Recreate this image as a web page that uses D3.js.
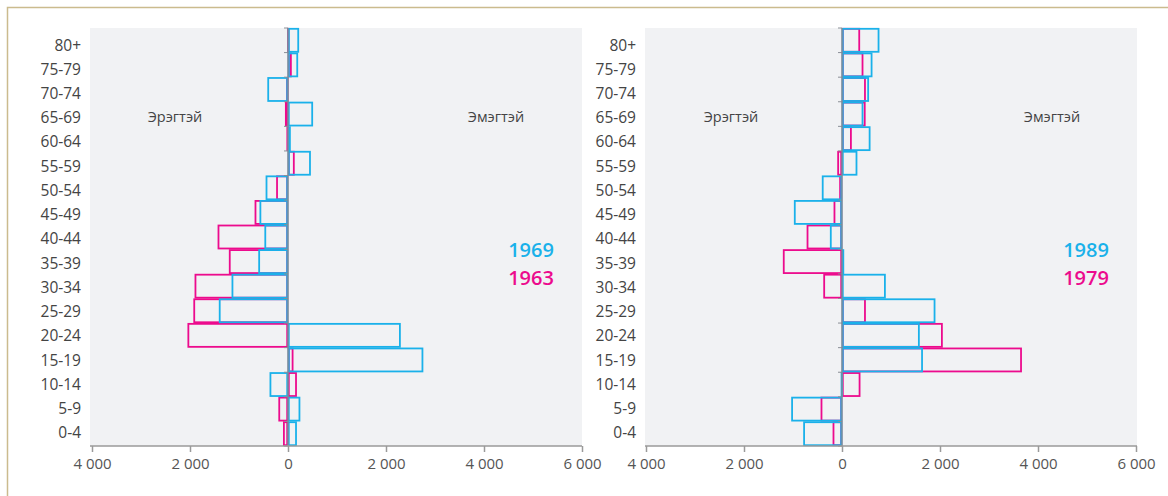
<!DOCTYPE html>
<html>
<head>
<meta charset="utf-8">
<script src="https://cdn.jsdelivr.net/npm/d3@7"></script>
<style>
  html, body { margin: 0; padding: 0; background: #fff; }
  svg { display: block; font-family: "Open Sans", "Noto Sans", sans-serif; }
</style>
</head>
<body>
<svg id="chart" width="1168" height="496"></svg>
<script>
// Age groups (bottom to top)
const ageGroups = ["0-4","5-9","10-14","15-19","20-24","25-29","30-34","35-39","40-44","45-49","50-54","55-59","60-64","65-69","70-74","75-79","80+"];

// Left panel: 1963 (pink), 1969 (blue)
const values1963 = [-100, -195, 180, 110, -2050, -1930, -1905, -1205, -1435, -680, -240, 135, -30, -60, -35, 75, -15];
const values1969 = [180, 250, -375, 2760, 2300, -1410, -1150, -605, -480, -580, -455, 465, 55, 510, -420, 205, 225];

// Right panel: 1979 (pink), 1989 (blue)
const values1979 = [-190, -435, 375, 3670, 2055, 485, -380, -1205, -720, -170, -55, -95, 198, 480, 485, 435, 368];
const values1989 = [-790, -1035, -25, 1650, 1585, 1905, 892, 25, -245, -980, -410, 312, 580, 435, 550, 620, 762];

const xTicks = [-4000, -2000, 0, 2000, 4000, 6000];
const sideLabels = ["Эрэгтэй", "Эмэгтэй"];

const panels = [
  { pink: values1963, blue: values1969, pinkYear: "1963", blueYear: "1969", bg: [90, 582], range: [92, 582],
    maleX: 175, femaleX: 496, yearX: 531 },
  { pink: values1979, blue: values1989, pinkYear: "1979", blueYear: "1989", bg: [645, 1137], range: [646, 1136],
    maleX: 731, femaleX: 1052, yearX: 1086 }
];

const BLUE = "#1ab1ea";
const PINK = "#ec0b8d";
const plotTop = 28, plotBottom = 446;

const svg = d3.select("#chart");

// frame
svg.append("path")
  .attr("d", "M7.5,496 L7.5,7.5 L1168,7.5")
  .attr("fill", "none").attr("stroke", "#cbbb8e").attr("stroke-width", 1.5);

const fmt = d => d3.format(",")(Math.abs(d)).replace(/,/g, " ");

panels.forEach(p => {
  const x = d3.scaleLinear().domain([-4000, 6000]).range(p.range);
  const y = d3.scaleBand().domain(ageGroups.slice().reverse()).range([plotTop, plotBottom]).padding(0);
  const yLab = d3.scaleBand().domain(ageGroups.slice().reverse()).range([33, 445]).padding(0);
  const g = svg.append("g");

  g.append("rect").attr("x", p.bg[0]).attr("y", plotTop).attr("width", p.bg[1] - p.bg[0]).attr("height", plotBottom - plotTop)
    .attr("fill", "#f1f2f4");

  // bars pink first, blue on top
  [[p.pink, PINK], [p.blue, BLUE]].forEach(([vals, col]) => {
    g.append("g").selectAll("rect").data(ageGroups).join("rect")
      .attr("x", (d, i) => Math.min(x(0), x(vals[i])) + 0.8)
      .attr("y", d => y(d) + 0.8)
      .attr("width", (d, i) => Math.max(0.5, Math.abs(x(vals[i]) - x(0)) - 1.6))
      .attr("height", y.bandwidth() - 1.6)
      .attr("fill", "none")
      .attr("stroke", col)
      .attr("stroke-width", 1.8);
  });

  // zero axis with ticks at band boundaries
  const boundaries = ageGroups.map(d => y(d)).concat([plotBottom]);
  g.append("g").selectAll("line").data(boundaries).join("line")
    .attr("x1", x(0) - 4).attr("x2", x(0)).attr("y1", d => d).attr("y2", d => d)
    .attr("stroke", "#8a8f96").attr("stroke-width", 1);
  g.append("line").attr("x1", x(0)).attr("x2", x(0)).attr("y1", plotTop).attr("y2", plotBottom)
    .attr("stroke", "#7d8b9a").attr("stroke-width", 1.5);

  // x axis
  const xAxis = d3.axisBottom(x).tickValues(xTicks).tickFormat(fmt).tickSize(6).tickSizeOuter(0);
  const ax = g.append("g").attr("transform", `translate(0,${plotBottom})`).call(xAxis);
  ax.select(".domain").attr("stroke", "#9a9a9a").attr("stroke-width", 1.5).attr("d", `M${p.bg[0]},0H${p.bg[1]}`);
  ax.selectAll(".tick line").attr("stroke", "#9a9a9a").attr("stroke-width", 1.5);
  ax.selectAll(".tick text").attr("fill", "#555").attr("font-size", 15).attr("dy", "0.9em")
    .attr("font-family", "'Open Sans', sans-serif");

  // y labels
  g.append("g").selectAll("text").data(ageGroups).join("text")
    .attr("x", p.bg[0] - 9)
    .attr("y", d => yLab(d) + yLab.bandwidth() / 2)
    .attr("dy", "0.35em")
    .attr("text-anchor", "end")
    .attr("font-size", 15.5)
    .attr("fill", "#444")
    .text(d => d);

  // side labels
  g.append("text").attr("x", p.maleX).attr("y", 117).attr("dy", "0.35em").attr("text-anchor", "middle")
    .attr("font-size", 14.5).attr("fill", "#444").text(sideLabels[0]);
  g.append("text").attr("x", p.femaleX).attr("y", 117).attr("dy", "0.35em").attr("text-anchor", "middle")
    .attr("font-size", 14.5).attr("fill", "#444").text(sideLabels[1]);

  // year labels
  g.append("text").attr("x", p.yearX).attr("y", 250).attr("dy", "0.35em").attr("text-anchor", "middle")
    .attr("font-size", 20).attr("font-weight", 600).attr("fill", BLUE).text(p.blueYear);
  g.append("text").attr("x", p.yearX).attr("y", 278).attr("dy", "0.35em").attr("text-anchor", "middle")
    .attr("font-size", 20).attr("font-weight", 600).attr("fill", PINK).text(p.pinkYear);
});
</script>
</body>
</html>
